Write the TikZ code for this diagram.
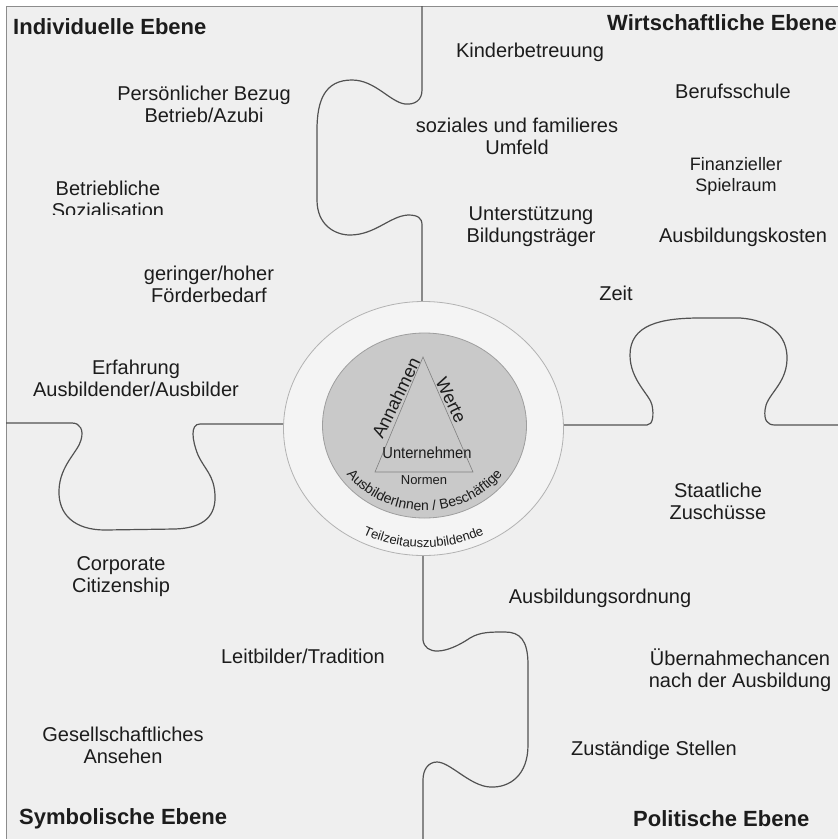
\documentclass[tikz,border=0pt]{standalone}
\usepackage{fontspec}
\setmainfont{Liberation Sans}
\usetikzlibrary{decorations.text}
\definecolor{paper}{RGB}{239,239,239}
\definecolor{ring}{RGB}{244,244,244}
\definecolor{core}{RGB}{201,201,201}
\definecolor{ink}{RGB}{28,28,28}
\definecolor{rim}{RGB}{140,140,140}
\def\factor{\node[factor]}
\def\ebene{\node[ebene]}
\tikzset{factor/.style={font=\fontsize{20}{22.5}\selectfont,align=center,text=ink,inner sep=0pt,anchor=base},
  ebene/.style={font=\fontsize{22}{24}\selectfont\bfseries,text=ink,inner sep=0pt,anchor=base west},
  piece/.style={draw=black!68,line width=1.2pt},
  mitte/.style={text=ink,inner sep=0pt}}

\begin{document}
\begin{tikzpicture}[x=1pt,y=-1pt]
\useasboundingbox (0,0) rectangle (838,839);
\fill[white] (0,0) rectangle (838,839);
\fill[paper] (6,6) rectangle (838,839);
\draw[rim] (838,6) -- (6,6) -- (6,839);

% puzzle seams
\draw[piece] (422,6) -- (422,90) .. controls (422,100) and (415,105) .. (405,104)
  .. controls (390,102) and (375,80) .. (352,80) .. controls (325,80) and (317,100) .. (317,130)
  -- (317,200) .. controls (317,225) and (335,235) .. (350,235)
  .. controls (375,235) and (390,216) .. (408,215) .. controls (418,215) and (422,218) .. (422,225)
  -- (422,302);
\draw[piece] (6,423) -- (72,423) .. controls (80,423) and (84,430) .. (81,440)
  .. controls (78,452) and (60,465) .. (59,490) .. controls (58,515) and (75,530) .. (105,530)
  -- (175,529) .. controls (205,528) and (216,515) .. (215,495)
  .. controls (214,475) and (205,470) .. (198,455) .. controls (192,440) and (190,424) .. (200,424)
  -- (285,424);
\draw[piece] (562,425) -- (647,425) .. controls (653,425) and (654,415) .. (652,405)
  .. controls (650,395) and (630,380) .. (630,355) .. controls (630,325) and (660,318) .. (700,318)
  -- (740,318) .. controls (770,320) and (788,335) .. (787,360)
  .. controls (786,385) and (766,395) .. (765,410) .. controls (764,420) and (767,425) .. (775,425)
  -- (838,425);
\draw[piece] (423,554) -- (423,640) .. controls (425,655) and (445,655) .. (470,638)
  .. controls (480,632) and (490,632) .. (505,632) .. controls (520,632) and (528,640) .. (528,665)
  -- (528,745) .. controls (528,775) and (510,788) .. (490,787)
  .. controls (470,786) and (450,762) .. (437,762) .. controls (428,762) and (423,770) .. (423,780)
  -- (423,839);

% Unternehmen in der Mitte
\coordinate (mid) at (423.5,428.5);
\coordinate (kern) at (424.5,425.5);
\draw[draw=black!30,fill=ring,line width=0.8pt] (mid) ellipse [x radius=140,y radius=127];
\draw[draw=black!38,fill=core,line width=0.8pt] (kern) ellipse [x radius=102,y radius=92.5];
\draw[draw=black!50,fill=core,line width=0.6pt] (423,357) -- (375,472) -- (473,472) -- cycle;
\node[mitte,rotate=64,font=\fontsize{18}{18}\selectfont] (annahmen) at (396,398) {Annahmen};
\node[mitte,rotate=-64,font=\fontsize{18}{18}\selectfont] (werte) at (451,400) {Werte};
\node[mitte,xscale=0.92,font=\fontsize{16}{16}\selectfont] (unternehmen) at (427,453) {Unternehmen};
\node[mitte,font=\fontsize{13}{13}\selectfont] (normen) at (424,480) {Normen};
\path[decorate,decoration={text along path,text align=center,
  text={|\fontsize{14}{14}\selectfont\color{ink}|AusbilderInnen / Beschäftige}}]
  (kern) ++(160:95 and 85) arc[start angle=160,end angle=20,x radius=95,y radius=85];
\path[decorate,decoration={text along path,text align=center,
  text={|\fontsize{13}{13}\selectfont\color{ink}|Teilzeitauszubildende}}]
  (mid) ++(150:132 and 119) arc[start angle=150,end angle=30,x radius=132,y radius=119];

% Ebenen
\ebene (indiv) at (13,34) {Individuelle Ebene};
\ebene (wirt) at (607,30) {Wirtschaftliche Ebene};
\ebene (symb) at (19,824) {Symbolische Ebene};
\ebene (polit) at (633,826) {Politische Ebene};

% individuelle Faktoren
\factor (bezug) at (204,122.5) {Persönlicher Bezug\\Betrieb/Azubi};
\begin{scope}
\clip (0,0) rectangle (838,214);
\factor (sozial) at (108,217.5) {Betriebliche\\Sozialisation};
\end{scope}
\factor (foerder) at (209,302.5) {geringer/hoher\\Förderbedarf};
\factor (erfahrung) at (136,396.5) {Erfahrung\\Ausbildender/Ausbilder};

% wirtschaftliche Faktoren
\factor (kinder) at (530,57) {Kinderbetreuung};
\factor (schule) at (733,98) {Berufsschule};
\factor (umfeld) at (517,154.5) {soziales und familieres\\Umfeld};
\factor (spielraum) [font=\fontsize{18}{21}\selectfont] at (736,191) {Finanzieller\\Spielraum};
\factor (traeger) at (531,242.5) {Unterstützung\\Bildungsträger};
\factor (kosten) at (743,242) {Ausbildungskosten};
\factor (zeit) at (616,300) {Zeit};

% politische Faktoren
\factor (zuschuss) at (718,519.5) {Staatliche\\Zuschüsse};
\factor (ordnung) at (600,603) {Ausbildungsordnung};
\factor (uebernahme) at (740,687.5) {Übernahmechancen\\nach der Ausbildung};
\factor (stellen) at (654,755) {Zuständige Stellen};

% symbolische Faktoren
\factor (citizen) at (121,592.5) {Corporate\\Citizenship};
\factor (leitbild) at (303,663) {Leitbilder/Tradition};
\factor (ansehen) at (123,763.5) {Gesellschaftliches\\Ansehen};
\end{tikzpicture}
\end{document}
